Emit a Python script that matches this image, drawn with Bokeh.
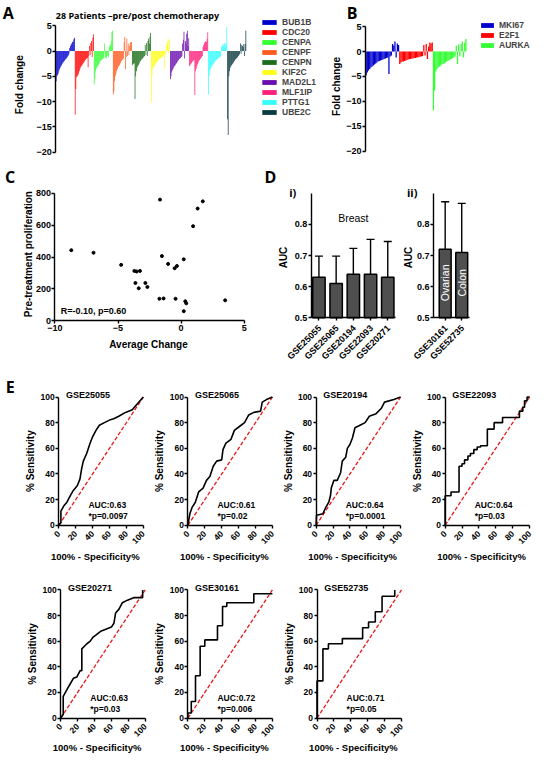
from math import pi
from bokeh.plotting import figure
from bokeh.layouts import row, column, Spacer
from bokeh.models import (Range1d, Label, Legend, LegendItem, FixedTicker, Whisker,
                          TeeHead, ColumnDataSource, LinearAxis)
from bokeh.embed import file_html
from bokeh.resources import INLINE

FONT = "Liberation Sans"
LFONT = "Open Sans"

# ---------------- data ----------------
genes_a = ["BUB1B", "CDC20", "CENPA", "CENPF", "CENPN", "KIF2C", "MAD2L1", "MLF1IP", "PTTG1", "UBE2C"]
colors_a = ["#0000cd", "#ff0000", "#33ff33", "#ff5a1f", "#1b6e1b", "#ffff1a", "#6a0dad", "#ff1f7a", "#33ffff", "#0b3a40"]
bub1b = [-6.0, -5.0, -4.8, -4.5, -4.0, -3.6, -3.3, -3.0, -2.8, -2.5, -2.3, -2.1, -2.0, -1.8, -1.6, -1.5, -1.3, -1.1, -0.9, -0.5, 0.6, 1.0, 1.3, 1.5, 1.8, 1.9, 2.3, 2.6]
cdc20 = [-12.6, -7.5, -5.2, -5.0, -4.8, -4.5, -4.0, -3.6, -3.2, -3.0, -2.8, -2.6, -2.4, -2.2, -2.0, -1.8, -1.6, -1.5, -1.4, -3.2, -1.0, 1.0, -0.8, 1.6, 2.0, -1.2, 2.6, 3.3]
cenpa = [-6.6, -5.5, -4.0, -3.5, -3.2, -3.0, -2.8, -2.5, -2.3, -2.0, -1.9, -1.8, -1.6, -1.5, -1.4, 1.5, -1.3, -1.2, -1.5, -1.0, -0.8, -1.2, 0.8, 1.0, 1.3, 2.0, 3.8, 4.0]
cenpf = [-8.6, -8.0, -6.0, -5.0, -4.5, -4.0, -3.6, -3.2, -3.0, -2.8, -2.5, -2.3, -2.0, -1.8, -1.7, -1.5, 1.8, 2.8, -3.6, -1.2, 2.4, -1.0, 1.5, -0.8, 1.0, 1.6, 1.8, 1.8]
cenpn = [-2.8, -2.6, -2.5, -2.4, -9.5, -5.0, -4.0, -3.3, -3.0, -2.8, -2.5, -2.2, -2.0, -1.8, -1.6, -1.5, -1.3, -1.2, -1.0, 1.2, -0.8, 1.6, -1.0, 2.0, 2.4, 1.5, 2.8, 3.6]
kif2c = [-10.2, -5.0, -3.6, -3.2, -3.0, -2.8, -2.6, -2.4, -2.2, -2.0, -1.8, -1.7, -1.6, -1.5, -1.4, -1.3, -1.2, -1.0, -0.9, -3.5, -0.8, -0.6, 1.0, 1.5, 2.0, -0.5, 2.2, 2.5]
mad2l1 = [-5.6, -5.0, -4.2, -3.8, -3.5, -3.2, -3.0, -2.8, -2.6, -2.4, -2.2, -2.0, -1.8, -1.6, -1.5, -1.4, -1.2, -1.0, 1.5, 2.2, 3.8, -1.5, 2.0, 1.5, 3.4, 4.0, 1.0, 2.5]
mlf1ip = [-3.0, -2.8, -2.5, -2.4, -2.2, -2.0, -1.9, -1.8, -8.7, -4.0, -3.5, -3.0, -2.6, -2.3, -2.0, -1.8, -1.6, -1.4, -1.2, -1.0, 0.8, 1.2, 1.6, 1.8, 2.0, 1.8, 2.4, 3.7]
pttg1 = [-8.6, -5.0, -4.0, -3.6, -3.2, -3.0, -2.8, -2.6, -2.4, -2.2, -2.0, -1.9, -1.8, -1.6, -1.5, -1.4, -1.3, -1.2, -1.0, 0.8, 1.0, 1.4, 1.0, 1.5, 1.6, 1.2, 1.5, 4.7]
ube2c = [-13.5, -16.6, -5.0, -4.0, -3.3, -3.0, -2.8, -2.6, -2.4, -2.2, -2.0, -1.8, -1.6, -1.5, -1.4, -1.2, -1.0, -0.8, -0.6, 1.5, -0.5, 1.2, 1.0, 0.8, 1.4, -1.0, 1.4, 4.0]
values_a = [bub1b, cdc20, cenpa, cenpf, cenpn, kif2c, mad2l1, mlf1ip, pttg1, ube2c]

genes_b = ["MKI67", "E2F1", "AURKA"]
colors_b = ["#0000cd", "#ff0000", "#33ff33"]
mki67 = [-4.8, -4.2, -3.8, -3.5, -3.2, -3.0, -2.8, -2.6, -2.4, -2.2, -2.0, -1.9, -1.8, -1.7, -1.6, -1.5, -1.4, -1.3, -1.2, -4.5, -1.0, -0.8, 1.5, 1.2, 2.0, -1.2, 1.6, 1.3]
e2f1 = [-2.5, -2.2, -2.0, -2.0, -1.9, -1.8, -1.7, -1.6, -1.5, -1.5, -1.4, -1.4, -1.3, -1.3, -1.2, -1.2, -1.1, -1.0, -1.0, -0.9, 1.3, -0.8, 1.5, -1.5, 1.0, 1.8, 1.6, 1.8]
aurka = [-11.8, -7.8, -4.0, -3.5, -3.2, -3.0, -2.8, -2.6, -2.5, -2.4, -2.2, -2.0, -1.9, -1.8, -1.6, -1.5, -1.3, -1.2, -1.0, 1.2, -2.5, 1.4, -1.0, 1.5, 2.0, -1.2, 1.8, 2.5]
values_b = [mki67, e2f1, aurka]
fold_range = (-20, 5)
fold_ticks = [-20, -15, -10, -5, 0, 5]

avg_change = [-8.7, -6.94, -4.75, -3.7, -3.52, -3.26, -3.62, -3.36, -2.83, -2.67, -1.67, -1.52, -1.72, -1.39,
              -1.03, -0.51, -0.33, -0.44, 0.21, 0.21, 0.33, 0.41, 0.95, 1.31, 1.72, 3.49]
pre_prolif = [443, 427, 351, 313, 309, 313, 237, 204, 237, 212, 761, 406, 138, 140,
              357, 330, 344, 138, 386, 60, 122, 109, 594, 705, 750, 128]
c_xrange = (-10, 5)
c_yrange = (0, 800)
c_xticks = [-10, -5, 0, 5]
c_yticks = [0, 200, 400, 600, 800]

breast_sets = ["GSE25055", "GSE25065", "GSE20194", "GSE22093", "GSE20271"]
breast_auc = [0.63, 0.61, 0.64, 0.64, 0.63]
breast_lo = [0.553, 0.518, 0.553, 0.523, 0.518]
breast_hi = [0.698, 0.698, 0.723, 0.752, 0.745]
other_sets = ["GSE30161", "GSE52735"]
other_names = ["Ovarian", "Colon"]
other_auc = [0.72, 0.71]
other_lo = [0.57, 0.53]
other_hi = [0.873, 0.868]
auc_range = (0.5, 0.9)
auc_ticks = [0.5, 0.6, 0.7, 0.8]

roc_names = ["GSE25055", "GSE25065", "GSE20194", "GSE22093", "GSE20271", "GSE30161", "GSE52735"]
roc_auc = ["AUC:0.63", "AUC:0.61", "AUC:0.64", "AUC:0.64", "AUC:0.63", "AUC:0.72", "AUC:0.71"]
roc_p = ["*p=0.0097", "*p=0.02", "*p=0.0001", "*p=0.03", "*p=0.03", "*p=0.006", "*p=0.05"]
fpr_25055 = [0, 2.5, 2.5, 5.8, 9.6, 13.5, 17, 22, 25, 27, 29, 33, 37, 40, 44, 48, 54, 60, 65, 71, 79, 87, 92, 100]
tpr_25055 = [0, 2, 11, 15, 18, 23, 27, 31, 36, 44, 50, 56, 64, 69, 74, 78, 80, 82, 83, 85, 88, 90, 94, 100]
fpr_25065 = [0, 2.3, 5, 8.8, 12.7, 18, 22, 26, 30, 34, 40, 41.5, 45, 51, 55, 61, 67, 72, 78, 86, 88, 93, 100]
tpr_25065 = [0, 9, 14, 18, 26, 29, 35, 38, 46, 50, 51, 59, 64, 67, 74, 77, 80, 86, 88, 89, 96, 98, 100]
fpr_20194 = [0, 0.5, 2, 8, 11.5, 15, 17, 18, 21, 25, 29, 31, 35, 37, 40, 43, 46, 52, 58, 63, 71, 77, 81, 92, 100]
tpr_20194 = [0, 8, 8, 9, 14, 18, 23, 29, 35, 35, 41, 50, 53, 60, 63, 68, 76, 78, 80, 85, 87, 91, 96, 98, 100]
fpr_22093 = [0, 0, 7, 7, 16.5, 16.5, 20, 20, 23, 23, 27, 27, 30, 30, 34, 34, 38, 38, 42, 42, 50, 50, 58, 58, 68, 68, 88, 88, 92, 92, 94, 94, 97, 97, 100]
tpr_22093 = [0, 23, 23, 26, 26, 46, 46, 48, 48, 51, 51, 54, 54, 56, 56, 59, 59, 61, 61, 62, 62, 75, 75, 80, 80, 84, 84, 89, 89, 92, 92, 97, 97, 100, 100]
fpr_20271 = [0, 2, 3, 3, 8, 11.5, 15, 19, 23, 25, 25, 28, 31, 35, 38, 42, 48, 52, 60, 63, 65, 69, 73, 79, 87, 97, 97]
tpr_20271 = [0, 2, 3, 17, 23, 27, 31, 32, 37, 37, 54, 56, 58, 60, 63, 65, 68, 69, 71, 74, 82, 85, 90, 92, 94, 94, 100]
fpr_30161 = [0, 0, 4, 4, 9, 9, 14.5, 14.5, 20, 20, 35, 35, 41, 41, 46, 46, 78, 78, 100]
tpr_30161 = [0, 4, 4, 13, 13, 33, 33, 56, 56, 61, 61, 72, 72, 87, 87, 90, 90, 97, 97]
fpr_52735 = [0, 0, 7, 7, 13.5, 13.5, 30, 30, 54, 54, 61, 61, 69, 69, 77, 77, 92, 92]
tpr_52735 = [0, 29, 29, 54, 54, 58, 58, 62, 62, 70.5, 70.5, 75, 75, 83, 83, 95, 95, 100]
roc_fpr = [fpr_25055, fpr_25065, fpr_20194, fpr_22093, fpr_20271, fpr_30161, fpr_52735]
roc_tpr = [tpr_25055, tpr_25065, tpr_20194, tpr_22093, tpr_20271, tpr_30161, tpr_52735]
roc_range = (0, 100)
roc_ticks = [0, 20, 40, 60, 80, 100]
roc_tick_labels = ["0", "20", "40", "60", "80", "100"]


# ---------------- helpers ----------------
class Pane:
    """A figure whose frame is the whole canvas; the plot box (l, r, t, b in px) maps to xr, yr."""

    def __init__(self, w, h, box, xr, yr):
        l, r, t, b = box
        self.xr, self.yr = xr, yr
        self.ux = (xr[1] - xr[0]) / (r - l)
        self.uy = (yr[1] - yr[0]) / (b - t)
        self.x0 = xr[0] - l * self.ux
        self.y1 = yr[1] + t * self.uy
        self.cx = (l + r) / 2.0
        self.cy = (t + b) / 2.0
        self.l, self.b = l, b
        self.p = figure(width=w, height=h, title=None,
                        x_range=Range1d(self.x0, xr[1] + (w - r) * self.ux),
                        y_range=Range1d(yr[0] - (h - b) * self.uy, self.y1),
                        min_border_left=0, min_border_right=0, min_border_top=0, min_border_bottom=0,
                        x_axis_location=None, y_axis_location=None,
                        toolbar_location=None, output_backend="svg")
        self.p.xgrid.visible = False
        self.p.ygrid.visible = False
        self.p.outline_line_color = None
        self.p.background_fill_color = "white"
        self.p.border_fill_color = "white"

    def dx(self, px):
        return self.x0 + px * self.ux

    def dy(self, py):
        return self.y1 - py * self.uy

    def px(self, x):
        return (x - self.x0) / self.ux

    def _style(self, ax, ticks, size):
        ax.ticker = FixedTicker(ticks=ticks)
        ax.axis_line_width = 1.4
        ax.axis_line_color = "black"
        ax.major_tick_line_width = 1.4
        ax.major_tick_out = 3
        ax.major_tick_in = 0
        ax.minor_tick_line_color = None
        ax.major_label_text_font = FONT
        ax.major_label_text_font_style = "bold"
        ax.major_label_text_font_size = size
        ax.major_label_text_color = "black"
        ax.major_label_standoff = 1

    def yaxis(self, ticks, size="9px"):
        ax = LinearAxis(fixed_location=self.xr[0], bounds=self.yr)
        self._style(ax, ticks, size)
        self.p.add_layout(ax, "left")
        return ax

    def xaxis(self, ticks, size="9px"):
        ax = LinearAxis(fixed_location=self.yr[0], bounds=self.xr)
        self._style(ax, ticks, size)
        self.p.add_layout(ax, "below")
        return ax

    def xaxis_rotated(self, ticks, labels, size="9px", dx=1.0, dy=6.0):
        ax = self.xaxis(ticks, size)
        ax.major_label_overrides = {t: "" for t in ticks}
        for t, txt in zip(ticks, labels):
            self.plabel(self.px(t) + dx, self.b + dy, txt, size=size, align="right", angle=pi / 4)
        return ax

    def label(self, x, y, text, size="9px", font=FONT, style="bold", align="left",
              baseline="middle", color="black", angle=0):
        self.p.add_layout(Label(x=x, y=y, text=text, text_font=font, text_font_style=style,
                                text_font_size=size, text_align=align, text_baseline=baseline,
                                text_color=color, angle=angle))

    def plabel(self, px, py, text, **kw):
        self.label(self.dx(px), self.dy(py), text, **kw)


def bar_pane(w, h, box, genes, values, colors, leg_loc, glyph_w):
    n = sum(len(v) for v in values)
    pn = Pane(w, h, box, (-0.5, n - 0.5), fold_range)
    items = []
    start = 0
    for name, vals, col in zip(genes, values, colors):
        xs = [start + i for i in range(len(vals))]
        start += len(vals)
        r = pn.p.vbar(x=xs, top=vals, bottom=0, width=1.05, fill_color=col, line_color=None)
        items.append(LegendItem(label=name, renderers=[r]))
    pn.yaxis(fold_ticks)
    leg = Legend(items=items, location=leg_loc, orientation="vertical", glyph_width=glyph_w,
                 glyph_height=6, label_height=9, spacing=0, padding=0, margin=0, label_standoff=4,
                 border_line_color=None, background_fill_alpha=0, label_text_font=FONT,
                 label_text_font_style="bold", label_text_font_size="8.5px")
    pn.p.add_layout(leg)
    return pn


# ---------------- Panel A / B ----------------
A = bar_pane(325, 166, (55.3, 245.7, 25.2, 151.7), genes_a, values_a, colors_a, (260, 49), 18)
A.plabel(7.8, 12.7, "A", size="16px", font=LFONT, align="center")
A.plabel(55.3, 14.7, "28 Patients \u2013pre/post chemotherapy", size="9px", font=LFONT)
A.plabel(19.4, 84.2, "Fold change", size="10px", align="center", angle=pi / 2)

B = bar_pane(209, 166, (40, 141, 26.1, 150.8), genes_b, values_b, colors_b, (154, 116), 16)
B.plabel(26.5, 12.7, "B", size="16px", font=LFONT, align="center")
B.plabel(11, 86, "Fold change", size="10px", align="center", angle=pi / 2)

# ---------------- Panel C ----------------
C = Pane(260, 211, (54.4, 243.7, 26.9, 154.2), c_xrange, c_yrange)
C.p.scatter(avg_change, pre_prolif, size=3, color="black")
C.xaxis(c_xticks)
C.yaxis(c_yticks)
C.plabel(9.7, 10, "C", size="16px", font=LFONT, align="center")
C.plabel(60.2, 144.3, "R=-0.10, p=0.60", size="9px")
C.plabel(148, 177.6, "Average Change", size="10px", align="center")
C.plabel(28.2, 87.6, "Pre-treatment proliferation", size="10px", align="center", angle=pi / 2)


# ---------------- Panel D ----------------
def auc_pane(w, box, sets, auc, lo, hi, xr):
    pn = Pane(w, 211, box, xr, auc_range)
    src = ColumnDataSource(dict(x=list(range(len(sets))), auc=auc, lo=lo, hi=hi))
    pn.p.vbar(x="x", top="auc", bottom=auc_range[0], width=0.72, fill_color="#4f4f4f",
              line_color="black", line_width=1.5, source=src)
    pn.p.add_layout(Whisker(base="x", upper="hi", lower="lo", source=src, line_width=1.4,
                            upper_head=TeeHead(size=8, line_width=1.4),
                            lower_head=TeeHead(size=8, line_width=1.4)))
    pn.yaxis(auc_ticks)
    pn.xaxis_rotated(list(range(len(sets))), sets, size="9px", dx=1, dy=9)
    return pn


D1 = auc_pane(140, (50.7, 135, 26.9, 151.2), breast_sets, breast_auc, breast_lo, breast_hi, (-0.45, 4.45))
D1.plabel(10, 10, "D", size="16px", font=LFONT, align="center")
D1.plabel(32.3, 25.5, "i)", size="11px", font=LFONT, align="center")
D1.plabel(22.6, 91, "AUC", size="10px", align="center", angle=pi / 2)
D1.label(2, 0.822, "Breast", size="10.5px", style="normal", align="center")

D2 = auc_pane(134, (33.1, 69, 26.9, 151.2), other_sets, other_auc, other_lo, other_hi, (-0.7, 1.47))
D2.plabel(11.7, 25.5, "ii)", size="11px", font=LFONT, align="center")
D2.plabel(7.8, 91, "AUC", size="10px", align="center", angle=pi / 2)
for i, nm in enumerate(other_names):
    D2.label(i, 0.612, nm, size="10.5px", style="normal", align="center", color="white", angle=pi / 2)


# ---------------- Panel E ----------------
def roc_pane(idx, w, h, l, t, b, xlab_y):
    pn = Pane(w, h, (l, l + 84.5, t, b), roc_range, roc_range)
    pn.p.line(list(roc_range), list(roc_range), line_color="#e8191b", line_dash="4 2", line_width=1.3)
    pn.p.line(roc_fpr[idx], roc_tpr[idx], line_color="black", line_width=1.6)
    pn.xaxis_rotated(roc_ticks, roc_tick_labels, size="8.5px", dx=0, dy=7)
    pn.yaxis(roc_ticks, size="8.5px")
    pn.plabel(pn.cx - 5.8, xlab_y, "100% - Specificity%", size="9.5px", align="center")
    pn.plabel(l - 28, pn.cy, "% Sensitivity", size="10px", align="center", angle=pi / 2)
    pn.label(8.5, 101.5, roc_names[idx], size="9px", baseline="alphabetic")
    pn.label(35, 16, roc_auc[idx], size="8.5px")
    pn.label(35, 7.3, roc_p[idx], size="8.5px")
    return pn


E1 = roc_pane(0, 148, 186, 58.3, 19.5, 147.8, 179)
E1.plabel(9.7, 9, "E", size="16px", font=LFONT, align="center")
E2 = roc_pane(1, 129, 186, 39.4, 19.5, 147.8, 179)
E3 = roc_pane(2, 129, 186, 38.6, 19.5, 147.8, 179)
E4 = roc_pane(3, 128, 186, 38.6, 19.5, 147.8, 179)
E5 = roc_pane(4, 150, 194, 60.2, 26.4, 154.6, 184)
E6 = roc_pane(5, 129, 194, 37.4, 26.4, 154.6, 184)
E7 = roc_pane(6, 127, 194, 37.5, 26.4, 154.6, 184)

layout = column(
    row(A.p, B.p),
    row(C.p, D1.p, D2.p),
    row(E1.p, E2.p, E3.p, E4.p),
    row(E5.p, E6.p, E7.p, Spacer(width=128, height=194)),
)

open("out.html", "w").write(file_html(layout, INLINE))
